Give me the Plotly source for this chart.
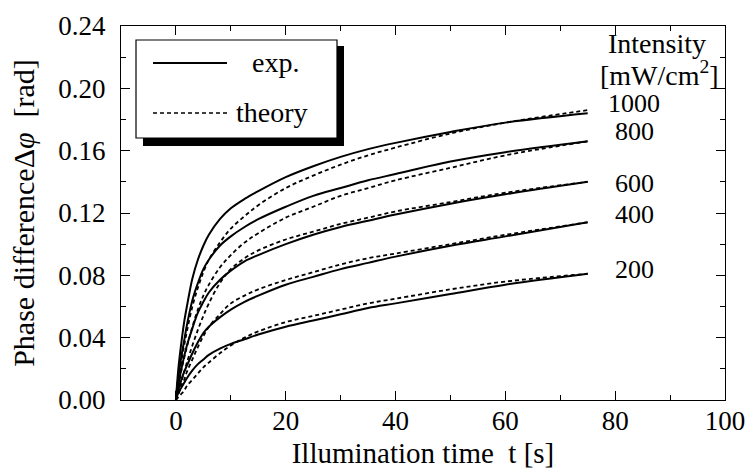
import plotly.graph_objects as go

# ---------------- data ----------------
t = [0, 0.25, 0.5, 1, 1.5, 2, 3, 4, 5, 6, 8, 10, 12.5, 15, 20, 25, 30, 35, 40, 50, 60, 75]

intensities = ["1000", "800", "600", "400", "200"]

exp_1000 = [0, .012, .022, .037, .050, .060, .078, .090, .099, .106, .116, .123, .129, .134, .143, .150, .156, .161, .165, .172, .178, .184]
exp_800  = [0, .009, .016, .028, .038, .048, .064, .075, .084, .090, .099, .105, .111, .116, .124, .131, .136, .141, .145, .153, .159, .166]
exp_600  = [0, .006, .011, .020, .028, .035, .046, .056, .063, .069, .077, .083, .089, .093, .100, .106, .111, .115, .119, .126, .132, .140]
exp_400  = [0, .004, .007, .013, .018, .022, .030, .037, .043, .047, .053, .058, .063, .067, .074, .079, .084, .088, .092, .099, .105, .114]
exp_200  = [0, .003, .005, .008, .011, .014, .019, .023, .026, .029, .033, .036, .039, .042, .047, .051, .055, .059, .062, .068, .074, .081]

th_1000 = [0, .007, .013, .025, .035, .044, .060, .072, .082, .090, .101, .110, .118, .125, .136, .144, .151, .157, .162, .171, .178, .186]
th_800  = [0, .005, .010, .019, .027, .034, .047, .058, .067, .074, .085, .093, .101, .107, .117, .124, .131, .136, .141, .149, .157, .166]
th_600  = [0, .003, .006, .012, .018, .024, .035, .045, .054, .062, .075, .084, .091, .096, .103, .108, .113, .117, .121, .127, .133, .140]
th_400  = [0, .002, .004, .009, .013, .018, .026, .034, .041, .047, .055, .062, .067, .071, .077, .082, .087, .091, .094, .100, .106, .114]
th_200  = [0, .001, .002, .004, .006, .009, .013, .017, .021, .024, .030, .035, .040, .044, .050, .054, .058, .062, .065, .071, .076, .081]

exp_series = [exp_1000, exp_800, exp_600, exp_400, exp_200]
th_series = [th_1000, th_800, th_600, th_400, th_200]

# label y positions (data units) for intensity labels
label_y = [0.190, 0.172, 0.139, 0.119, 0.084]

x_ticks = [0, 20, 40, 60, 80, 100]
y_ticks = [0.00, 0.04, 0.08, 0.12, 0.16, 0.20, 0.24]

# ---------------- figure ----------------
FONT = "Liberation Serif, Times New Roman, serif"
W, H = 747, 472
L, R, T, B = 121, 22, 26, 72
PW, PH = W - L - R, H - T - B


def px(x):
    return (x - L) / PW


def py(y):
    return (H - B - y) / PH


fig = go.Figure()

for ys in th_series:
    fig.add_trace(go.Scatter(x=t, y=ys, mode="lines",
                             line=dict(color="black", width=1.8, dash="4px,3px", shape="spline", smoothing=1.0),
                             showlegend=False, hoverinfo="skip"))
for ys in exp_series:
    fig.add_trace(go.Scatter(x=t, y=ys, mode="lines",
                             line=dict(color="black", width=2, shape="spline", smoothing=1.0),
                             showlegend=False, hoverinfo="skip"))

axis_common = dict(
    showgrid=False, zeroline=False, showline=True, linecolor="black", linewidth=1.2,
    mirror="ticks", ticks="inside", ticklen=9, tickwidth=1.2, tickcolor="black",
    tickfont=dict(family=FONT, size=27, color="black"),
)

fig.update_xaxes(range=[-10, 100], tickvals=x_ticks, ticktext=[str(v) for v in x_ticks],
                 minor=dict(dtick=10, tick0=0, ticks="inside", ticklen=5, tickcolor="black", tickwidth=1.2),
                 title=dict(text="Illumination time  t [s]", font=dict(family=FONT, size=29, color="black"), standoff=8),
                 ticklabelstandoff=-4,
                 **axis_common)
fig.update_yaxes(range=[0, 0.24], tickvals=y_ticks, ticktext=["%.2f" % v for v in y_ticks],
                 minor=dict(dtick=0.02, tick0=0, ticks="inside", ticklen=5, tickcolor="black", tickwidth=1.2),
                 title=dict(text="Phase differenceΔ<i>φ</i>  [rad]", font=dict(family=FONT, size=30, color="black"), standoff=14),
                 ticklabelstandoff=9,
                 **axis_common)

shapes = []
# legend shadow and box
shapes.append(dict(type="rect", xref="paper", yref="paper", x0=px(143), x1=px(344), y0=py(146), y1=py(46),
                   fillcolor="black", line=dict(width=0), layer="above"))
shapes.append(dict(type="rect", xref="paper", yref="paper", x0=px(136), x1=px(337), y0=py(138), y1=py(40),
                   fillcolor="white", line=dict(color="black", width=1.2), layer="above"))
shapes.append(dict(type="line", xref="paper", yref="paper", x0=px(153), x1=px(227), y0=py(63), y1=py(63),
                   line=dict(color="black", width=1.8), layer="above"))
shapes.append(dict(type="line", xref="paper", yref="paper", x0=px(153), x1=px(227), y0=py(113), y1=py(113),
                   line=dict(color="black", width=1.6, dash="4px,3px"), layer="above"))
fig.update_layout(shapes=shapes)

annotations = [
    dict(text="exp.", x=px(250), y=py(62), xref="paper", yref="paper", xanchor="left", yanchor="middle",
         showarrow=False, font=dict(family=FONT, size=28, color="black")),
    dict(text="theory", x=px(234), y=py(112), xref="paper", yref="paper", xanchor="left", yanchor="middle",
         showarrow=False, font=dict(family=FONT, size=28, color="black")),
    dict(text="Intensity", x=px(606), y=py(44), xref="paper", yref="paper", xanchor="left", yanchor="middle",
         showarrow=False, font=dict(family=FONT, size=28, color="black")),
    dict(text="[mW/cm<sup>2</sup>]", x=px(598), y=py(74), xref="paper", yref="paper", xanchor="left", yanchor="middle",
         showarrow=False, font=dict(family=FONT, size=28, color="black")),
]
for lab, ly in zip(intensities, label_y):
    annotations.append(dict(text=lab, x=83.5, y=ly, xref="x", yref="y", xanchor="center", yanchor="middle",
                            showarrow=False, font=dict(family=FONT, size=26, color="black")))
fig.update_layout(annotations=annotations)

fig.update_layout(
    width=W, height=H,
    margin=dict(l=L, r=R, t=T, b=B, autoexpand=False),
    paper_bgcolor="white", plot_bgcolor="white",
    showlegend=False,
)

fig.write_html("out.html")
